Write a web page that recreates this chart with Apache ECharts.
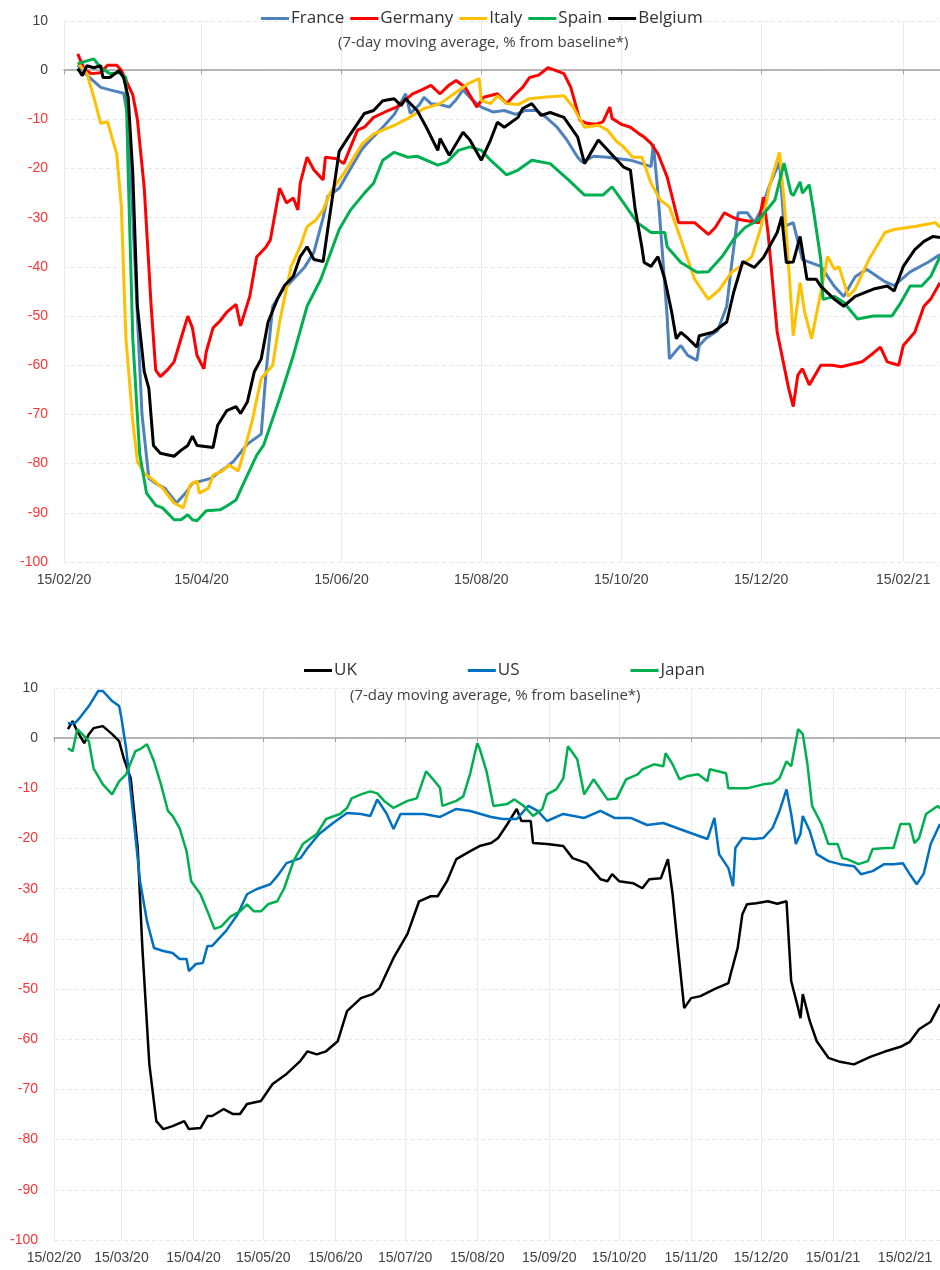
<!DOCTYPE html>
<html>
<head>
<meta charset="utf-8">
<script src="https://cdn.jsdelivr.net/npm/echarts@6/dist/echarts.min.js"></script>
<style>
html, body { margin: 0; padding: 0; background: #fff; }
#main { width: 940px; height: 1270px; }
</style>
</head>
<body>
<div id="main"></div>
<script>
// x = days since 15/02/2020, y = % from baseline (7-day moving average)
var france = [[6,1],[10,-1],[16,-3.5],[20,-4],[26,-4.7],[28,-10],[31,-40],[34,-70],[37,-83],[40,-84],[44,-85],[49,-88],[53,-86],[56,-84],[60,-83.5],[64,-83],[70,-81],[74,-79.5],[80,-76],[86,-74],[88,-62],[91,-48],[95,-45],[100,-42.5],[105,-40],[109,-37],[113,-30],[115,-25.7],[120,-24],[125,-20],[130,-16],[135,-13.5],[139,-11.6],[144,-9],[149,-4.8],[151,-8.8],[155,-7],[157,-5.5],[160,-6.8],[164,-7],[168,-7.5],[171,-6],[174,-4],[178,-6],[182,-7.5],[187,-8.5],[192,-8.2],[197,-9],[201,-8.2],[206,-8.2],[210,-9.5],[215,-11.6],[219,-14],[224,-17.7],[226,-18.7],[231,-17.5],[237,-17.7],[242,-18],[247,-18.3],[252,-19],[256,-19.6],[257,-15],[259,-25],[263,-50],[264,-58.7],[267,-57],[269,-56],[272,-58],[276,-59],[277,-56],[280,-54.5],[285,-53],[289,-48],[291,-40],[294,-29],[298,-29],[301,-31],[304,-28.4],[308,-23],[312,-18.7],[314,-31.8],[318,-31],[322,-38.5],[330,-39.9],[336,-44],[340,-46],[345,-42],[350,-40.5],[358,-43],[362,-43.8],[369,-41],[377,-39],[382,-37.5]]
var germany = [[6,3.3],[9,0],[12,-0.7],[16,-0.5],[19,1],[23,1],[25,0],[27,-2],[30,-5],[32,-10],[35,-24],[38,-48],[40,-61],[42,-62.3],[45,-61],[48,-59.3],[51,-54.6],[54,-50],[56,-52.4],[58,-58],[61,-60.7],[62,-57.3],[65,-52.4],[68,-51],[71,-49.2],[75,-47.6],[77,-52],[81,-46],[84,-38],[88,-36],[90,-34.5],[94,-24],[97,-27],[100,-26],[102,-28.4],[103,-23],[106,-17.7],[109,-20.3],[113,-22.3],[114,-17.7],[119,-18],[122,-19],[125,-15.6],[128,-12.2],[131,-11.6],[135,-9.6],[140,-8.5],[145,-7.5],[149,-6],[152,-4.8],[156,-4],[160,-3.1],[164,-4.8],[168,-3],[171,-2.1],[175,-3.5],[180,-7.5],[183,-5.5],[189,-4.8],[193,-6.8],[197,-4.8],[200,-3.5],[203,-1.5],[207,-1],[211,0.5],[214,0],[218,-0.7],[221,-3.5],[225,-10.2],[228,-10.8],[232,-11],[235,-10.5],[238,-7.5],[239,-9.8],[243,-11],[247,-11.6],[251,-13],[253,-13.6],[256,-14.9],[259,-17],[263,-21.7],[268,-31],[272,-31],[275,-31],[281,-33.4],[284,-32],[288,-29],[292,-30],[295,-30.4],[303,-31],[305,-25.8],[307,-33],[311,-53.3],[316,-64.7],[318,-68.4],[320,-62],[322,-60.7],[325,-64],[330,-60],[335,-60],[339,-60.3],[348,-59.3],[353,-57.5],[356,-56.3],[359,-59.3],[364,-60],[366,-56],[371,-53.3],[375,-48],[378,-46.5],[382,-43.2]]
var italy = [[6,1.5],[10,-0.7],[13,-5.5],[16,-10.8],[19,-10.5],[23,-17],[25,-27.7],[27,-54.6],[30,-71.4],[32,-79.5],[35,-82],[38,-83],[43,-85],[48,-88],[52,-89],[55,-84.3],[58,-83.5],[59,-86],[63,-85],[65,-82.3],[69,-81.5],[72,-80.3],[76,-81.5],[78,-78.3],[82,-71.4],[86,-62.7],[91,-60],[94,-51.2],[99,-40],[103,-35.9],[106,-31.8],[110,-30.4],[113,-28.4],[116,-25],[122,-21],[126,-18],[130,-15],[135,-13],[139,-12.2],[145,-11],[150,-9.8],[157,-7.8],[164,-6.8],[171,-4.5],[176,-2.8],[181,-1.7],[182,-6.2],[186,-6.8],[189,-5.2],[193,-6.8],[198,-7],[203,-5.8],[209,-5.5],[218,-5.2],[222,-7.5],[227,-11.6],[233,-11.2],[237,-12.2],[241,-14.5],[244,-15.6],[248,-17.7],[252,-17.7],[256,-23],[260,-26.4],[264,-27.8],[269,-34.4],[275,-42.5],[281,-46.6],[286,-44.5],[291,-41.1],[295,-39.9],[300,-37.9],[304,-31.8],[308,-23],[312,-16.7],[314,-26.4],[316,-39.9],[318,-54],[321,-43.2],[323,-49.2],[326,-54.6],[330,-45.2],[333,-37.9],[336,-40.5],[338,-40],[342,-46],[345,-44.5],[351,-38.5],[358,-33],[362,-32.4],[371,-31.8],[380,-31],[382,-32]]
var spain = [[6,1.3],[10,1.9],[13,2.3],[16,0.5],[20,-0.7],[24,-0.5],[27,-1.5],[28,-21],[30,-54.6],[33,-78],[36,-86],[40,-88.5],[43,-89],[48,-91.4],[51,-91.4],[54,-90.4],[56,-91.4],[58,-91.6],[62,-89.6],[68,-89.4],[71,-88.6],[75,-87.4],[78,-84.3],[84,-78.3],[87,-76.3],[94,-66.8],[100,-58],[106,-48],[112,-42.5],[120,-32.4],[125,-28.4],[131,-25],[135,-23],[139,-18.3],[144,-16.7],[150,-17.7],[154,-17.5],[163,-19.3],[167,-18.7],[172,-16.3],[177,-15.6],[182,-16.3],[186,-18.3],[193,-21.3],[198,-20.3],[204,-18.3],[212,-19],[220,-22.3],[227,-25.4],[235,-25.4],[239,-23.7],[244,-27],[250,-31],[256,-33],[262,-33],[263,-35.9],[269,-39.1],[276,-41.1],[281,-41],[287,-37.9],[292,-34.4],[297,-32],[303,-30.4],[310,-26.4],[314,-18.9],[317,-25],[318,-25.5],[321,-22.7],[322,-25],[325,-23.3],[327,-29],[330,-38.5],[331,-46.6],[336,-46],[340,-47.2],[346,-50.6],[353,-50],[361,-50],[365,-47.2],[369,-43.9],[374,-43.9],[378,-41.9],[382,-37.9]]
var belgium = [[6,0.3],[8,-1.1],[10,0.9],[13,0.5],[16,0.9],[17,-1.5],[20,-1.5],[24,-0.1],[26,-1.5],[28,-5.5],[30,-21],[32,-48],[35,-61.3],[37,-64.7],[39,-76.3],[42,-77.9],[48,-78.5],[51,-77.3],[54,-76.3],[56,-74.4],[58,-76.3],[65,-76.7],[67,-72.2],[71,-69.2],[75,-68.4],[77,-69.8],[80,-67.4],[83,-61.3],[86,-58.7],[89,-51.2],[93,-46.6],[96,-43.9],[100,-41.9],[103,-37.9],[106,-35.9],[109,-38.5],[113,-38.9],[115,-32.4],[120,-16.5],[124,-13.6],[131,-8.8],[135,-8.2],[139,-6.2],[144,-5.8],[147,-7.2],[149,-5.8],[154,-8.2],[158,-11.6],[163,-16.3],[164,-13.9],[168,-17.3],[172,-14.2],[174,-12.6],[177,-14.2],[182,-18.3],[186,-14.2],[189,-10.6],[192,-11.6],[198,-9.6],[200,-7.8],[204,-6.8],[208,-9.2],[212,-8.6],[218,-9.6],[224,-13.6],[227,-19],[233,-14.2],[240,-17.7],[244,-19.7],[247,-20.3],[249,-28],[252,-36],[253,-39.1],[256,-39.9],[259,-37.9],[262,-42.5],[265,-49.2],[267,-54.6],[269,-53.3],[272,-54.5],[276,-56.3],[277,-54],[283,-53.3],[289,-51.2],[292,-45.2],[296,-38.9],[301,-40.1],[305,-38.1],[311,-33],[313,-29.8],[315,-39.1],[318,-39],[321,-33.8],[324,-42.5],[328,-42.5],[330,-43.9],[336,-46.6],[340,-48],[345,-46],[353,-44.5],[359,-43.9],[362,-44.9],[366,-39.9],[371,-36.5],[375,-34.8],[379,-33.8],[382,-34]]

var uk = [[6,1.8],[8,3.4],[10,1.4],[13,-1],[15,0.8],[17,2],[21,2.4],[25,0.8],[28,-0.6],[30,-4],[33,-8],[36,-21.9],[38,-41.8],[41,-65],[44,-76.3],[47,-77.9],[51,-77.3],[56,-76.3],[58,-77.9],[63,-77.7],[66,-75.3],[68,-75.3],[73,-73.9],[77,-74.9],[80,-74.9],[83,-72.9],[89,-72.3],[94,-68.9],[100,-66.9],[106,-64.3],[109,-62.4],[113,-63],[117,-62.4],[122,-60.4],[126,-54.4],[132,-51.8],[137,-51],[140,-49.8],[146,-43.8],[152,-39],[157,-32.5],[162,-31.5],[165,-31.5],[169,-28.5],[173,-24.1],[179,-22.5],[183,-21.5],[188,-20.9],[191,-19.9],[195,-17.1],[199,-14.1],[201,-16.5],[205,-16.5],[206,-20.9],[212,-21.1],[219,-21.5],[223,-23.9],[229,-24.9],[235,-28.1],[238,-28.5],[240,-27.1],[243,-28.5],[249,-28.9],[253,-29.9],[256,-28.1],[261,-27.9],[264,-24.1],[266,-31.1],[268,-40.4],[271,-53.8],[274,-51.8],[278,-51.4],[284,-50],[290,-48.8],[291,-47],[294,-41.8],[296,-35.1],[298,-33.1],[302,-32.9],[307,-32.5],[311,-33],[315,-32.5],[317,-48.4],[320,-53.8],[321,-55.8],[322,-51],[325,-56.4],[328,-60.4],[333,-63.7],[338,-64.5],[344,-65],[351,-63.5],[357,-62.5],[364,-61.5],[368,-60.5],[372,-58],[377,-56.5],[381,-53]]
var us = [[6,3],[9,3],[11,4],[15,6.4],[19,9.4],[21,9.4],[25,7.4],[28,6.4],[29,4],[31,-2],[34,-15.1],[37,-28.5],[40,-36.5],[43,-41.8],[47,-42.4],[51,-42.8],[54,-44],[57,-44],[58,-46.4],[61,-45],[64,-44.8],[66,-41.4],[68,-41.4],[74,-38.4],[79,-35.1],[83,-31.1],[87,-30.1],[93,-29.1],[96,-27.5],[100,-24.9],[106,-23.9],[109,-21.9],[114,-19.1],[120,-16.9],[126,-14.9],[132,-15.1],[136,-15.5],[139,-12.2],[143,-15],[146,-18.1],[149,-15.1],[159,-15.1],[166,-15.7],[173,-14.1],[179,-14.5],[188,-15.7],[193,-16.1],[199,-16.1],[204,-13.5],[208,-14.5],[212,-16.5],[219,-15.1],[228,-15.9],[235,-14.5],[241,-15.9],[248,-15.9],[255,-17.3],[262,-16.9],[269,-18.1],[275,-19.1],[281,-20.1],[284,-15.9],[286,-23.1],[290,-25.9],[292,-29.5],[293,-21.9],[296,-19.9],[301,-20.1],[305,-19.9],[309,-17.9],[312,-14.5],[315,-10.2],[317,-15.1],[319,-21.1],[321,-19.1],[322,-15.5],[325,-18.5],[328,-23.1],[333,-24.5],[338,-25.1],[344,-25.5],[347,-27.1],[352,-26.5],[357,-25.1],[361,-25.1],[365,-24.9],[368,-27.1],[371,-29.1],[374,-27],[377,-21.1],[381,-17.1]]
var japan = [[6,-2],[8,-2.6],[10,1.8],[13,0.4],[15,-0.6],[17,-6],[21,-9.2],[25,-11.2],[28,-8.6],[31,-7.2],[35,-2.6],[37,-2.2],[40,-1.2],[43,-4.6],[46,-9.2],[49,-14.5],[51,-15.5],[54,-17.9],[57,-22.5],[59,-28.5],[63,-31.1],[66,-34.5],[69,-38],[72,-37.5],[76,-35.5],[80,-34.5],[83,-33.1],[86,-34.5],[89,-34.5],[92,-33.1],[96,-32.5],[99,-29.9],[103,-24.5],[107,-21.1],[113,-19.1],[117,-16.1],[123,-15.1],[126,-13.9],[128,-12],[132,-11.2],[136,-10.6],[139,-11],[142,-12.5],[146,-13.9],[152,-12.5],[156,-12],[160,-6.6],[163,-8.2],[166,-9.9],[167,-13.5],[173,-12.5],[176,-11.6],[179,-7],[182,-1],[183,-2],[186,-6.6],[188,-11.2],[189,-13.5],[195,-13.1],[198,-12.2],[202,-13.5],[206,-15.5],[210,-14.1],[212,-11.2],[216,-10.2],[219,-8],[221,-1.6],[225,-4.2],[228,-11.2],[232,-8.2],[238,-12.2],[242,-12],[246,-8.2],[251,-7.2],[253,-6.2],[258,-5.2],[262,-5.6],[263,-3],[266,-5.2],[269,-8.2],[272,-7.6],[277,-7.2],[281,-8.6],[282,-6.2],[289,-7],[290,-10],[298,-10],[305,-9.2],[309,-9],[312,-8],[315,-4.6],[317,-5.6],[320,1.8],[322,0.8],[324,-5.2],[326,-13.5],[330,-17.1],[333,-21.1],[337,-21.1],[339,-23.9],[341,-24.1],[346,-25.1],[350,-24.5],[352,-22.1],[358,-21.9],[361,-21.9],[364,-17.1],[368,-17.1],[370,-20.9],[372,-19.9],[375,-15.1],[380,-13.5],[381,-14]]

var topTicks = ['15/02/20', '15/04/20', '15/06/20', '15/08/20', '15/10/20', '15/12/20', '15/02/21']
var bottomTicks = ['15/02/20', '15/03/20', '15/04/20', '15/05/20', '15/06/20', '15/07/20', '15/08/20', '15/09/20', '15/10/20', '15/11/20', '15/12/20', '15/01/21', '15/02/21']
var subtitle = '(7-day moving average, % from baseline*)'

function pad(n) { return n < 10 ? '0' + n : '' + n }
function buildDays(last) {
    var out = []
    for (var i = 0; i <= last; i++) {
        var d = new Date(Date.UTC(2020, 1, 15 + i))
        out.push(pad(d.getUTCDate()) + '/' + pad(d.getUTCMonth() + 1) + '/' + String(d.getUTCFullYear()).slice(2))
    }
    return out
}
var topDays = buildDays(382)
var bottomDays = buildDays(381)

var font = "'Liberation Sans', Arial, sans-serif"
var textFont = "'Open Sans', 'Noto Sans', sans-serif"

function tickFn(list) {
    return function(idx, val) { return list.indexOf(val) >= 0 }
}

function dateAxis(grid, days, ticks) {
    return {
        type: 'category', gridIndex: grid, data: days, boundaryGap: false, position: 'bottom',
        axisLine: { show: false, onZero: false },
        axisTick: { show: false },
        axisLabel: { interval: tickFn(ticks), color: '#404040', fontSize: 14, fontFamily: font, margin: 11 },
        splitLine: { show: true, interval: tickFn(ticks), lineStyle: { color: '#ececec', width: 1 } }
    }
}
// zero line with small ticks
function zeroAxis(grid, days, ticks) {
    return {
        type: 'category', gridIndex: grid, data: days, boundaryGap: false, position: 'bottom',
        axisLine: { show: true, onZero: true, lineStyle: { color: '#a0a0a0', width: 1.5 } },
        axisTick: { show: true, interval: tickFn(ticks), length: 4, lineStyle: { color: '#a0a0a0' } },
        axisLabel: { show: false },
        splitLine: { show: false }
    }
}
function valueAxis(grid) {
    return {
        type: 'value', gridIndex: grid, min: -100, max: 10, interval: 10,
        axisLine: { show: false }, axisTick: { show: false },
        axisLabel: {
            fontSize: 14, fontFamily: font, margin: 16,
            color: function(v) { return Number(v) < 0 ? '#ff3333' : '#404040' }
        },
        splitLine: { lineStyle: { color: '#e6e6e6', type: [4, 3], width: 1 } }
    }
}
function line(name, data, color, grid, width) {
    return {
        name: name, type: 'line', data: data, xAxisIndex: grid * 2, yAxisIndex: grid,
        showSymbol: false, symbol: 'none', lineStyle: { color: color, width: width }, itemStyle: { color: color },
        z: 3
    }
}

var myChart = echarts.init(document.getElementById('main'))
var option = {
    animation: false,
    backgroundColor: '#fff',
    title: [
        { text: subtitle, left: 333, top: 30, textStyle: { fontSize: 15, fontWeight: 'normal', color: '#404040', fontFamily: textFont } },
        { text: subtitle, left: 345, top: 683, textStyle: { fontSize: 15, fontWeight: 'normal', color: '#404040', fontFamily: textFont } }
    ],
    legend: [
        {
            data: ['France', 'Germany', 'Italy', 'Spain', 'Belgium'], left: 256, top: 5,
            icon: 'rect', itemWidth: 28, itemHeight: 3, itemGap: 6,
            textStyle: { fontSize: 17, color: '#333', fontFamily: textFont, padding: [0, 0, 0, -3] }
        },
        {
            data: ['UK', 'US', 'Japan'], left: 299, top: 657,
            icon: 'rect', itemWidth: 28, itemHeight: 3, itemGap: 111,
            textStyle: { fontSize: 17, color: '#333', fontFamily: textFont, padding: [0, 0, 0, -3] }
        }
    ],
    grid: [
        { left: 64, right: 0, top: 21, height: 541 },
        { left: 54, right: 0, top: 688, height: 552 }
    ],
    xAxis: [
        dateAxis(0, topDays, topTicks), zeroAxis(0, topDays, topTicks),
        dateAxis(1, bottomDays, bottomTicks), zeroAxis(1, bottomDays, bottomTicks)
    ],
    yAxis: [valueAxis(0), valueAxis(1)],
    series: [
        line('France', france, '#4f81bd', 0, 3),
        line('Germany', germany, '#ff0000', 0, 3),
        line('Italy', italy, '#ffc000', 0, 3),
        line('Spain', spain, '#00b050', 0, 3),
        line('Belgium', belgium, '#000000', 0, 3),
        line('UK', uk, '#000000', 1, 2.5),
        line('US', us, '#0070c0', 1, 2.5),
        line('Japan', japan, '#00b050', 1, 2.5)
    ]
}
myChart.setOption(option)
</script>
</body>
</html>
